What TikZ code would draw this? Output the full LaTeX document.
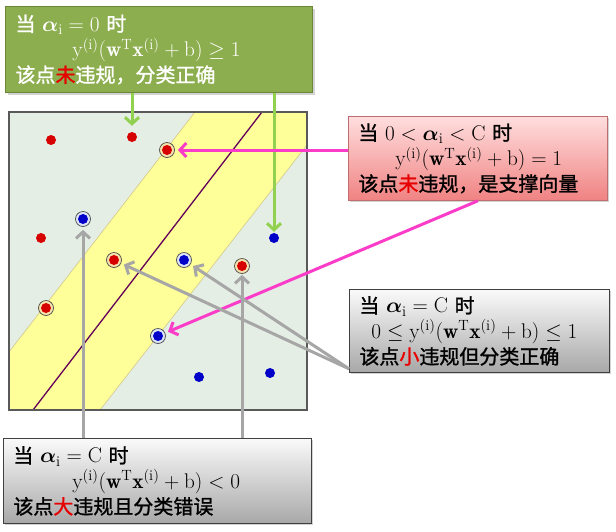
\RequirePackage{fix-cm}
\documentclass[tikz,border=0pt]{standalone}
\usepackage{amsmath}
\usepackage{fontspec}
\newfontfamily\cjk[FakeBold=1.3]{Noto Sans CJK SC}
\usetikzlibrary{arrows.meta,shadows}
\definecolor{plotbg}{RGB}{229,238,229}
\definecolor{bandY}{RGB}{255,255,153}
\definecolor{bandE}{RGB}{210,200,140}
\definecolor{hyper}{RGB}{100,0,90}
\definecolor{dotR}{RGB}{215,0,0}
\definecolor{dotB}{RGB}{0,0,200}
\definecolor{gArr}{RGB}{146,208,80}
\definecolor{pArr}{RGB}{250,60,200}
\definecolor{gyArr}{RGB}{166,166,166}
\definecolor{gBox}{RGB}{141,174,79}
\definecolor{gBoxE}{RGB}{105,135,55}
\definecolor{pTop}{RGB}{255,222,222}
\definecolor{pBot}{RGB}{240,130,130}
\definecolor{grTop}{RGB}{250,250,250}
\definecolor{grBot}{RGB}{168,168,168}
\definecolor{hl}{RGB}{230,0,0}
\tikzset{
  rdot/.style={circle, fill=dotR, inner sep=0pt, minimum size=10pt},
  bdot/.style={circle, fill=dotB, inner sep=0pt, minimum size=10pt},
  rring/.style={circle, inner sep=0pt, minimum size=15pt, draw=black!70, line width=0.7pt, fill={rgb,255:red,245;green,225;blue,170},
    path picture={\fill[dotR] (path picture bounding box.center) circle (5pt);}},
  bring/.style={circle, inner sep=0pt, minimum size=15pt, draw=black!70, line width=0.7pt, fill={rgb,255:red,220;green,228;blue,245},
    path picture={\fill[dotB] (path picture bounding box.center) circle (5pt);}},
  tip/.style={-{Straight Barb[length=6.5pt,width=14pt]}},
  garr/.style={tip, draw=gArr, line width=3pt},
  parr/.style={tip, draw=pArr, line width=3pt},
  yarr/.style={tip, draw=gyArr, line width=3pt},
  box/.style={anchor=north west, inner xsep=10pt, inner ysep=0pt, align=left,
    font=\cjk\fontsize{20}{25.5}\selectfont,
    drop shadow={opacity=0.35, shadow xshift=2pt, shadow yshift=-2pt}},
}
\newcommand{\mth}[1]{\scalebox{1.06}{$#1$}}
\begin{document}
\begin{tikzpicture}[x=1pt,y=-1pt]
\useasboundingbox (0,0) rectangle (616,531);
% plot
\fill[plotbg] (9,112) rectangle (307,410);
\fill[bandY] (195,112) -- (307,112) -- (307,145) -- (100,410) -- (9,410) -- (9,352) -- cycle;
\draw[bandE, line width=0.6pt] (195,112) -- (9,352);
\draw[bandE, line width=0.6pt] (307,145) -- (100,410);
\draw[hyper, line width=1.3pt] (262,112) -- (33,410);
\draw[black!65, line width=1.2pt] (9,112) rectangle (307,410);
% points
\node[rdot] (r1) at (51,140) {};
\node[rdot] (r2) at (132,137) {};
\node[rdot] (r3) at (41,238) {};
\node[rring] (rc1) at (167,150) {};
\node[rring] (rc2) at (114,260) {};
\node[rring] (rc3) at (242,266) {};
\node[rring] (rc4) at (46,308) {};
\node[bring] (bc1) at (83,219) {};
\node[bring] (bc2) at (184,260) {};
\node[bring] (bc3) at (158,336) {};
\node[bdot] (b1) at (274,238) {};
\node[bdot] (b2) at (199,377) {};
\node[bdot] (b3) at (270,373) {};
% boxes
\node[box, draw=gBoxE, line width=1pt, fill=gBox, text=white, text width=287pt, minimum height=86pt] (g) at (5,6)
  {当 \mth{\boldsymbol{\alpha}_{\mathrm{i}}=0} 时\\
   \hspace*{57pt}\mth{\mathrm{y}^{(\mathrm{i})}(\mathbf{w}^{\mathrm{T}}\mathbf{x}^{(\mathrm{i})}+\mathrm{b})\geq 1}\\
   该点\textcolor{hl}{未}违规，分类正确};
\node[box, draw={rgb,255:red,190;green,110;blue,110}, line width=0.8pt, top color=pTop, bottom color=pBot, text width=239pt, minimum height=84pt] (p) at (348,116)
  {当 \mth{0<\boldsymbol{\alpha}_{\mathrm{i}}<\mathrm{C}} 时\\
   \hspace*{37pt}\mth{\mathrm{y}^{(\mathrm{i})}(\mathbf{w}^{\mathrm{T}}\mathbf{x}^{(\mathrm{i})}+\mathrm{b})=1}\\
   该点\textcolor{hl}{未}违规，是支撑向量};
\node[box, draw=black!75, line width=0.8pt, top color=grTop, bottom color=grBot, text width=240pt, minimum height=83pt] (m) at (349,289)
  {当 \mth{\boldsymbol{\alpha}_{\mathrm{i}}=\mathrm{C}} 时\\
   \hspace*{12pt}\mth{0\leq\mathrm{y}^{(\mathrm{i})}(\mathbf{w}^{\mathrm{T}}\mathbf{x}^{(\mathrm{i})}+\mathrm{b})\leq 1}\\
   该点\textcolor{hl}{小}违规但分类正确};
\node[box, draw=black!75, line width=0.8pt, top color=grTop, bottom color=grBot, text width=288pt, minimum height=85pt] (k) at (3,438)
  {当 \mth{\boldsymbol{\alpha}_{\mathrm{i}}=\mathrm{C}} 时\\
   \hspace*{59pt}\mth{\mathrm{y}^{(\mathrm{i})}(\mathbf{w}^{\mathrm{T}}\mathbf{x}^{(\mathrm{i})}+\mathrm{b})<0}\\
   该点\textcolor{hl}{大}违规且分类错误};
% connectors
\coordinate (mc) at ([yshift=4pt]m.south west);
\draw[garr, shorten >=6pt] (g.south -| r2) -- (r2.north);
\draw[garr, shorten >=1pt] (g.south -| b1) -- (b1.north);
\draw[parr, shorten >=3pt] (p.west |- rc1) -- (rc1.east);
\draw[parr, shorten >=3pt] (p.south) -- (bc3);
\draw[yarr, shorten >=3pt] (mc) -- (rc2);
\draw[yarr, shorten >=3pt] (mc) -- (bc2);
\draw[yarr, shorten >=3pt] (k.north -| bc1) -- (bc1.south);
\draw[yarr, shorten >=1pt] (k.north -| rc3) -- (rc3.south);
\end{tikzpicture}
\end{document}
